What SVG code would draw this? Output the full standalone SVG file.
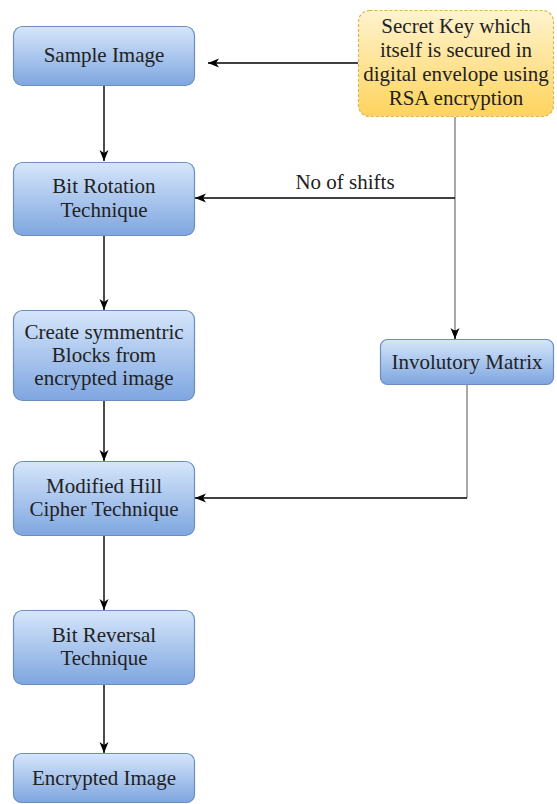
<svg xmlns="http://www.w3.org/2000/svg" width="557" height="804" viewBox="0 0 557 804">
<style>
.box{fill:url(#blue);stroke:#6c8ebf;stroke-width:1.2}
.key{fill:url(#yellow);stroke:#d6b656;stroke-width:1.2;stroke-dasharray:3 2}
text{font-family:'Liberation Serif','DejaVu Serif',serif;font-size:21px;fill:#222;text-anchor:middle}
.ln{fill:none;stroke:#000;stroke-width:1.4}
.gr{fill:none;stroke:#707070;stroke-width:1.2}
</style>
<defs>
<linearGradient id="blue" x1="0" y1="0" x2="0" y2="1">
<stop offset="0" stop-color="#d6e6fb"/>
<stop offset="1" stop-color="#7ea6e0"/>
</linearGradient>
<linearGradient id="yellow" x1="0" y1="0" x2="0" y2="1">
<stop offset="0" stop-color="#fff3cf"/>
<stop offset="1" stop-color="#ffd45c"/>
</linearGradient>
<marker id="arr" markerUnits="userSpaceOnUse" markerWidth="12" markerHeight="10" refX="11" refY="5" orient="auto">
<path d="M0,0.5 L11,5 L0,9.5 L3,5 Z" fill="#000"/>
</marker>
</defs>
<g id="connectors">
<path class="ln" d="M358,63 L208,63" marker-end="url(#arr)"/>
<path class="gr" d="M455,117 L455,338"/>
<path class="ln" d="M455,330 L455,339" marker-end="url(#arr)"/>
<path class="ln" d="M455,198 L195,198" marker-end="url(#arr)"/>
<path class="gr" d="M467,385 L467,498"/>
<path class="ln" d="M467,498 L195,498" marker-end="url(#arr)"/>
<path class="ln" d="M104,85 L104,161" marker-end="url(#arr)"/>
<path class="ln" d="M104,236 L104,310" marker-end="url(#arr)"/>
<path class="ln" d="M104,401 L104,461" marker-end="url(#arr)"/>
<path class="ln" d="M104,536 L104,610" marker-end="url(#arr)"/>
<path class="ln" d="M104,685 L104,753" marker-end="url(#arr)"/>
<text x="345" y="189">No of shifts</text>
</g>
<g id="sample-image">
<rect class="box" x="13.5" y="26.5" width="181" height="59" rx="9"/>
<text x="104" y="62">Sample Image</text>
</g>
<g id="secret-key">
<rect class="key" x="358.5" y="10.5" width="195" height="106" rx="11"/>
<text x="456" y="33">Secret Key which</text>
<text x="456" y="57">itself is secured in</text>
<text x="456" y="81">digital envelope using</text>
<text x="456" y="105">RSA encryption</text>
</g>
<g id="bit-rotation">
<rect class="box" x="13.5" y="162.5" width="181" height="73" rx="9"/>
<text x="104" y="193">Bit Rotation</text>
<text x="104" y="217">Technique</text>
</g>
<g id="create-blocks">
<rect class="box" x="13.5" y="310.5" width="181" height="90" rx="9"/>
<text x="104" y="339">Create symmentric</text>
<text x="104" y="362">Blocks from</text>
<text x="104" y="385">encrypted image</text>
</g>
<g id="involutory-matrix">
<rect class="box" x="380.5" y="339.5" width="173" height="45" rx="7"/>
<text x="467" y="369">Involutory Matrix</text>
</g>
<g id="modified-hill">
<rect class="box" x="13.5" y="461.5" width="181" height="74" rx="9"/>
<text x="104" y="493">Modified Hill</text>
<text x="104" y="516">Cipher Technique</text>
</g>
<g id="bit-reversal">
<rect class="box" x="13.5" y="610.5" width="181" height="74" rx="9"/>
<text x="104" y="642">Bit Reversal</text>
<text x="104" y="665">Technique</text>
</g>
<g id="encrypted-image">
<rect class="box" x="13.5" y="753.5" width="181" height="49" rx="8"/>
<text x="104" y="785">Encrypted Image</text>
</g>
</svg>
